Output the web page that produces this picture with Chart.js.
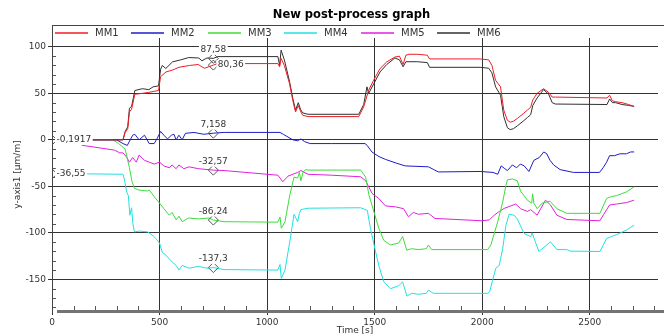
<!DOCTYPE html>
<html><head><meta charset="utf-8">
<script src="https://cdn.jsdelivr.net/npm/chart.js@4/dist/chart.umd.min.js"></script>
<style>html,body{margin:0;padding:0;background:#fff;overflow:hidden}canvas{display:block}</style>
</head><body>
<canvas id="c" width="664" height="335"></canvas>
<script>
// ---------- data ----------
const seriesNames = ['MM1', 'MM2', 'MM3', 'MM4', 'MM5', 'MM6'];
const seriesColors = ['#ee1c24', '#1c1cc8', '#3cdc3c', '#22e0e0', '#e020e0', '#303030'];

const mm1T = [175,330,340,352,360,370,385,420,450,470,495,505,530,560,590,640,680,700,710,750,770,1050,1058,1065,1080,1104,1119,1132,1145,1155,1165,1190,1426,1449,1472,1495,1525,1556,1594,1615,1632,1645,1660,1700,1745,1755,1990,2030,2045,2062,2085,2100,2117,2130,2145,2163,2190,2210,2225,2235,2255,2285,2309,2325,2340,2580,2592,2605,2620,2650,2680,2706];
const mm1V = [0,0,8,12,30,33,49,50,51,52,53,68,73,75,78,80,81,78,77,80.36,82,82,78.5,87.5,80,60.6,42.7,30,37,31,26.5,25,25,35.5,53.4,64,76.7,83.8,89,90,81,91,92,92,91,87,87,86,80,64,57,32,21,19,20,23,28,32,35,43,50,55,51,46,46,45,48,42,41,40,38,36];

const mm2T = [175,300,330,350,375,385,405,430,452,475,490,505,520,537,555,567,577,590,605,620,660,705,750,800,1060,1075,1097,1120,1142,1157,1175,1200,1300,1455,1465,1487,1520,1550,1600,1642,1750,1775,1796,1990,2050,2072,2088,2105,2117,2140,2160,2177,2195,2217,2240,2265,2286,2300,2315,2332,2362,2424,2545,2562,2578,2592,2615,2640,2670,2690,2706];
const mm2V = [0,0,-4,-6,5,6,0,5,-4,-4,2,9,5,1,5,6,0,5,0,7,8,6,7.158,8,8,6,3,0,-1,1,-2,-4,-4,-4,-6,-13,-18,-21,-25,-28,-29,-32,-34.5,-34,-35,-37,-28,-31,-33,-27,-30,-26,-28,-34,-22,-19,-13,-15,-22,-27,-32,-35,-35,-30,-24,-17,-17,-15,-15,-13,-13];

const mm3T = [175,283,310,330,340,350,360,372,383,405,443,452,475,500,520,545,558,577,590,605,635,680,730,750,800,1050,1060,1066,1083,1105,1125,1142,1150,1157,1168,1180,1190,1435,1458,1473,1496,1519,1542,1573,1611,1630,1649,1672,1703,1740,1750,1765,2025,2040,2072,2095,2110,2117,2140,2163,2178,2210,2230,2234,2240,2255,2278,2315,2347,2393,2547,2578,2600,2624,2670,2706];
const mm3V = [0,0,-4,-8,-10,-20,-30,-45,-52,-54,-55,-54,-61,-68,-74,-81,-78,-86,-82,-88,-84,-85,-84,-86.24,-88,-88.5,-83,-95,-88,-60,-40,-41,-35,-44,-34,-32,-32.5,-32.5,-40,-59,-77,-95,-108,-113,-111,-104,-118.6,-117,-118,-117,-113,-118,-118,-113,-88,-67,-49,-43,-42,-44,-55,-65,-68,-58,-68,-74,-68,-66,-74,-79,-79,-63,-61,-60,-56,-50.5];

const mm4T = [160,330,337,347,355,362,370,376,383,405,445,475,500,513,530,553,577,590,605,637,680,720,750,800,1050,1060,1066,1083,1105,1125,1142,1150,1157,1190,1435,1466,1480,1504,1519,1542,1573,1611,1630,1650,1672,1703,1740,1750,1772,2025,2035,2048,2063,2079,2095,2110,2125,2148,2163,2194,2225,2232,2263,2300,2317,2347,2393,2408,2547,2578,2600,2624,2670,2706];
const mm4V = [-36.55,-37,-43,-56,-60,-81,-73,-90,-99,-98,-99,-104,-111,-121,-124,-130,-135,-140,-135,-138,-136,-138,-137.3,-139.5,-140,-134,-149,-140,-110,-80,-88,-79,-75,-73.5,-73,-76,-95,-120,-135,-152.6,-160,-157,-152.6,-168,-165,-166,-165,-161.5,-165,-165,-163,-151,-138,-135,-117,-92,-80,-81,-85,-100.6,-104,-100,-120,-113,-109.6,-118,-118,-119.6,-120,-106,-104,-102,-97,-91.7];

const mm5T = [138,290,315,330,347,360,375,392,405,430,452,475,500,520,545,558,577,590,613,637,680,750,800,1050,1073,1097,1142,1157,1190,1300,1435,1458,1488,1519,1550,1596,1634,1657,1680,1703,1750,1780,2000,2033,2056,2079,2102,2133,2156,2178,2210,2225,2255,2294,2317,2347,2393,2547,2565,2592,2624,2670,2706];
const mm5V = [-5.8,-11,-14,-14,-18.6,-24,-19,-24,-16.4,-22,-24,-26,-24,-28,-30,-27,-31,-27,-31,-29,-31,-32.57,-33,-38,-45,-39,-35,-33,-37,-38,-39.7,-44,-57.6,-63,-71,-72,-74,-82.7,-78,-80,-79,-84.5,-87,-86,-81,-77,-73.7,-71,-69,-74,-77,-75,-81,-64.8,-70,-81,-85.6,-87,-80,-70,-69,-67.5,-64.8];

const mm6T = [175,330,340,352,360,370,385,420,450,470,495,505,513,529,560,598,636,682,697,720,750,770,1050,1058,1065,1080,1104,1119,1132,1145,1155,1165,1190,1426,1449,1464,1472,1495,1525,1556,1594,1615,1632,1645,1660,1700,1745,1755,1990,2030,2045,2062,2085,2100,2117,2130,2145,2163,2190,2210,2225,2235,2255,2285,2309,2325,2340,2580,2592,2605,2620,2650,2680,2706];
const mm6V = [0,0,9,14,34,36,53,55,54,57,58,76,80,76.7,83.8,86,88.5,88,85,88,87.58,89.5,89.5,80,96.4,86,63,45,32,40,33,29,27.5,27.5,38,57,50,60,73,81,88,86,78.5,84,84,84,83,78,78,77,72,57,48,25,13,11,12,15,20,24,27,37,45,54,49,40,38.5,38,44,40,40,38,37,36];

// cursor read-outs
const cursorT = [750, 750, 750, 750, 750, 750, 0, 0];
const cursorV = [87.58, 80.36, 7.158, -32.57, -86.24, -137.3, -0.1917, -36.55];
const cursorText = ['87,58', '80,36', '7,158', '-32,57', '-86,24', '-137,3', '-0,1917', '-36,55'];
const cursorSide = ['top', 'right', 'top', 'top', 'top', 'top', 'right', 'right'];

// axis ticks
const xTickValues = [0, 500, 1000, 1500, 2000, 2500];
const yTickValues = [-150, -100, -50, 0, 50, 100];

const chartTitle = 'New post-process graph';
const xTitle = 'Time [s]';
const yTitle = 'y-axis1 [\u00b5m/m]';

// ---------- build ----------
const allT = [mm1T, mm2T, mm3T, mm4T, mm5T, mm6T];
const allV = [mm1V, mm2V, mm3V, mm4V, mm5V, mm6V];
const FONT = '"DejaVu Sans", Verdana, sans-serif';
const TXT = '#333333';

const datasets = seriesNames.map((n, i) => ({
  label: n,
  data: allT[i].map((t, k) => ({x: t, y: allV[i][k]})),
  borderColor: seriesColors[i],
  backgroundColor: seriesColors[i],
  borderWidth: 1,
  pointRadius: 0,
  tension: 0,
  order: i
}));
datasets.push({
  label: 'cursor',
  data: cursorT.map((t, k) => ({x: t, y: cursorV[k]})),
  showLine: false,
  pointStyle: 'rectRot',
  pointRadius: 5,
  borderColor: '#555555',
  backgroundColor: 'rgba(0,0,0,0)',
  pointBorderWidth: 1,
  borderWidth: 0,
  order: -1,
  clip: 0
});

const deco = {
  id: 'deco',
  beforeDatasetsDraw(chart) {
    const {ctx, chartArea: a, scales: {x, y}} = chart;
    ctx.save();
    ctx.strokeStyle = '#555555';
    ctx.lineWidth = 1;
    ctx.beginPath();
    for (let v = -180; v <= 100; v += 10) {
      if (v % 50 === 0) continue;
      const py = Math.round(y.getPixelForValue(v)) + 0.5;
      ctx.moveTo(a.left, py); ctx.lineTo(a.left + 4, py);
    }
    for (let t = 100; t <= 2800; t += 100) {
      if (t % 500 === 0) continue;
      const px = Math.round(x.getPixelForValue(t)) + 0.5;
      ctx.moveTo(px, a.bottom); ctx.lineTo(px, a.bottom - 5);
    }
    ctx.stroke();
    ctx.restore();
  },
  afterDatasetsDraw(chart) {
    const {ctx, scales: {x, y}} = chart;
    ctx.save();
    ctx.font = '9px ' + FONT;
    ctx.textBaseline = 'middle';
    cursorText.forEach((s, k) => {
      const px = x.getPixelForValue(cursorT[k]);
      const py = y.getPixelForValue(cursorV[k]);
      const w = ctx.measureText(s).width;
      let tx, ty;
      if (cursorSide[k] === 'top') { tx = px - w / 2; ty = py - 8.5; }
      else { tx = px + 4.5; ty = py; }
      ctx.fillStyle = '#ffffff';
      ctx.fillRect(tx - 1.5, ty - 5, w + 3, 10);
      ctx.fillStyle = TXT;
      ctx.textAlign = 'left';
      ctx.fillText(s, tx, ty);
    });
    ctx.restore();
  },
  afterDraw(chart) {
    const {ctx, chartArea: a} = chart;
    ctx.save();
    // frame
    ctx.fillStyle = '#444444';
    ctx.fillRect(a.left, 25, 1, a.bottom + 2 - 25);
    ctx.fillRect(a.left, 25, chart.width - a.left, 1);
    // thick base bar
    ctx.fillStyle = '#737373';
    ctx.fillRect(a.left + 5, a.bottom - 1, chart.width - a.left - 5, 3);
    // title
    ctx.fillStyle = '#000000';
    ctx.font = 'bold 11.5px ' + FONT;
    ctx.textAlign = 'center';
    ctx.textBaseline = 'middle';
    ctx.fillText(chartTitle, 351.5, 15);
    // legend
    ctx.font = '10px ' + FONT;
    ctx.textAlign = 'left';
    seriesNames.forEach((n, i) => {
      const x0 = Math.round(55 + i * 76.4);
      ctx.strokeStyle = seriesColors[i];
      ctx.lineWidth = 1.3;
      ctx.beginPath();
      ctx.moveTo(x0, 33);
      ctx.lineTo(x0 + 33, 33);
      ctx.stroke();
      ctx.fillStyle = TXT;
      ctx.fillText(n, x0 + 40, 33.5);
    });
    ctx.restore();
  }
};

new Chart(document.getElementById('c'), {
  type: 'line',
  data: {datasets},
  plugins: [deco],
  options: {
    responsive: false,
    devicePixelRatio: 1,
    animation: false,
    layout: {padding: {top: 38, left: 0, right: 0, bottom: 0}},
    plugins: {legend: {display: false}, title: {display: false}, tooltip: {enabled: false}},
    scales: {
      x: {
        type: 'linear', min: 0, max: 2817,
        afterFit(s) { s.height = 24; },
        afterBuildTicks(s) { s.ticks = xTickValues.map(v => ({value: v})); },
        ticks: {autoSkip: false, maxRotation: 0, callback: v => String(v),
                font: {family: FONT, size: 9}, color: TXT, padding: 2},
        grid: {color: '#333333', lineWidth: 1, drawTicks: true, tickLength: 4, tickColor: '#333333'},
        border: {display: false},
        title: {display: true, text: xTitle, font: {family: FONT, size: 9}, color: TXT, padding: {top: 0, bottom: -1}}
      },
      y: {
        type: 'linear', min: -184, max: 109.5,
        afterFit(s) { s.width = 52; },
        afterBuildTicks(s) { s.ticks = yTickValues.map(v => ({value: v})); },
        ticks: {callback: v => String(v), font: {family: FONT, size: 9}, color: TXT, padding: 2},
        grid: {color: '#333333', lineWidth: 1, drawTicks: true, tickLength: 4, tickColor: '#333333'},
        border: {display: false},
        title: {display: true, text: yTitle, font: {family: FONT, size: 9}, color: TXT, padding: {top: 12, bottom: 0}}
      }
    }
  }
});
</script>
</body></html>
